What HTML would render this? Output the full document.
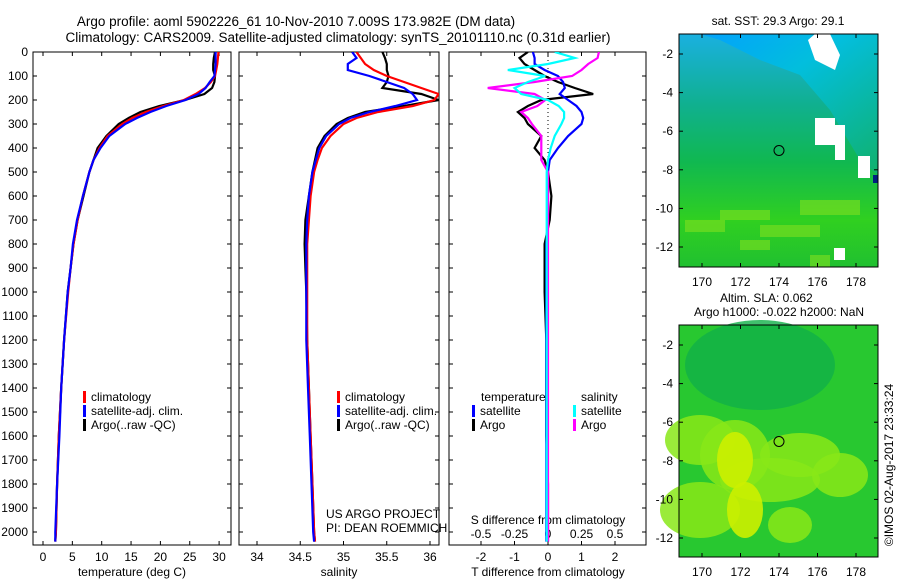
<!DOCTYPE html>
<html><head><meta charset="utf-8"><style>
body{margin:0;background:#fff;}
svg{display:block;font-family:"Liberation Sans",sans-serif;}
text{font-size:12px;fill:#000;}
</style></head><body>
<svg id="c" width="900" height="580" viewBox="0 0 900 580">
<text x="296" y="26" text-anchor="middle" style="font-size:13.5px">Argo profile: aoml 5902226_61 10-Nov-2010 7.009S 173.982E (DM data)</text>
<text x="338" y="42" text-anchor="middle" style="font-size:13.5px">Climatology: CARS2009. Satellite-adjusted climatology: synTS_20101110.nc (0.31d earlier)</text>
<g id="g"></g>
</svg>
<script>
const depths=[0,25,50,75,100,125,150,175,200,225,250,275,300,350,400,450,500,600,700,800,900,1000,1200,1400,1600,1800,2000,2040];
const tempClim=[29.9,29.8,29.7,29.5,29.3,28.6,27.6,26.0,24.0,20.5,17.5,15.2,13.5,11.0,9.6,8.6,7.9,6.8,5.9,5.2,4.7,4.3,3.6,3.1,2.7,2.4,2.2,2.1];
const tempSat=[29.4,29.4,29.4,29.3,29.2,28.4,27.7,26.5,24.3,21.0,18.3,16.0,14.0,11.3,9.8,8.6,7.9,6.8,5.8,5.1,4.7,4.2,3.6,3.1,2.8,2.4,2.1,2.1];
const tempArgo=[29.3,29.1,29.0,29.0,29.3,29.2,28.8,27.5,24.2,19.8,16.6,14.6,12.9,10.8,9.3,8.6,7.9,6.9,5.9,5.2,4.7,4.2,3.6,3.1,2.7,2.4,2.2,2.1];
const salClim=[35.15,35.2,35.25,35.35,35.5,35.7,35.9,36.1,36.05,35.8,35.4,35.15,35.0,34.85,34.75,34.7,34.66,34.62,34.6,34.58,34.58,34.58,34.58,34.6,34.62,34.64,34.66,34.67];
const salSat=[35.1,35.15,35.05,35.05,35.3,35.5,35.7,35.8,35.85,35.6,35.3,35.08,34.95,34.8,34.72,34.68,34.64,34.6,34.58,34.57,34.57,34.57,34.57,34.59,34.61,34.63,34.65,34.66];
const salArgo=[35.45,35.48,35.5,35.5,35.52,35.5,35.45,35.9,36.1,35.7,35.25,35.05,34.92,34.78,34.7,34.67,34.64,34.6,34.56,34.55,34.56,34.57,34.58,34.6,34.62,34.64,34.66,34.67];
const tDiffSat=[-0.45,-0.4,-0.4,-0.1,0.3,0.45,0.5,0.35,0.6,0.85,1.0,1.05,1.0,0.6,0.3,0.05,0,0,0,-0.05,-0.05,-0.05,-0.05,-0.05,-0.05,-0.05,-0.05,-0.05];
const tDiffArgo=[-0.6,-0.85,-0.7,-0.4,-0.1,0.3,0.8,1.35,-0.2,-0.6,-0.9,-0.7,-0.6,-0.2,-0.4,-0.1,0,0.1,0.05,-0.1,-0.1,-0.1,-0.05,-0.05,-0.05,0,0,0];
const sDiffSat=[0.05,0.2,0.0,-0.3,-0.02,-0.15,-0.25,-0.2,0.0,0.08,0.12,0.12,0.1,0.05,0.02,0.0,-0.01,-0.01,-0.01,-0.01,-0.01,-0.01,-0.01,-0.01,-0.01,-0.01,-0.01,-0.01];
const sDiffArgo=[0.38,0.37,0.3,0.25,0.18,-0.1,-0.45,-0.1,-0.02,-0.08,-0.2,-0.15,-0.12,-0.05,-0.05,-0.05,0,0,0,0,0,0,0,0,0,0,0,0];
const depthTicks=[0,100,200,300,400,500,600,700,800,900,1000,1100,1200,1300,1400,1500,1600,1700,1800,1900,2000];
const tempTicks=[0,5,10,15,20,25,30];
const salTicks=[34,34.5,35,35.5,36];
const tdTicks=[-2,-1,0,1,2];
const sdTicks=[-0.5,-0.25,0,0.25,0.5];
const sdLabels=['-0.5','-0.25','0','0.25','0.5'];
const lonTicks=[170,172,174,176,178];
const latTicks=[-2,-4,-6,-8,-10,-12];

const NS='http://www.w3.org/2000/svg';
const G=document.getElementById('g');
function mk(t,a,p){const e=document.createElementNS(NS,t);for(const k in a)e.setAttribute(k,a[k]);(p||G).appendChild(e);return e;}
const yD=d=>52+d*0.24;
const P1={l:33,r:231},P2={l:239,r:439},P3={l:449,r:646};
const xT=v=>43+v*5.87, xS=v=>257+(v-34)*86.5, xTD=v=>548+v*33.5, xSD=v=>548+v*134;
const PT=52,PB=545;
function clip(id,P){const cp=mk('clipPath',{id:id});mk('rect',{x:P.l,y:PT,width:P.r-P.l,height:PB-PT},cp);}
clip('c1',P1);clip('c2',P2);clip('c3',P3);
function frame(P,name){const r=mk('rect',{x:P.l,y:PT,width:P.r-P.l,height:PB-PT,fill:'none',stroke:'#000','stroke-width':1});


depthTicks.forEach(d=>{mk('line',{x1:P.l,x2:P.l+4,y1:yD(d),y2:yD(d),stroke:'#000'});mk('line',{x1:P.r,x2:P.r-4,y1:yD(d),y2:yD(d),stroke:'#000'});});}
frame(P1,'temperature-panel');frame(P2,'salinity-panel');frame(P3,'difference-panel');
function lab(x,y,s,name,anchor){const t=mk('text',{x:x,y:y,'text-anchor':anchor||'middle'});t.textContent=s;

return t;}
depthTicks.forEach(d=>lab(28,yD(d)+4,String(d),'depth-tick-label','end'));
function xticks(arr,fx,y,name){arr.forEach(v=>{const x=fx(v);mk('line',{x1:x,x2:x,y1:PB,y2:PB-4,stroke:'#000'});mk('line',{x1:x,x2:x,y1:PT,y2:PT+4,stroke:'#000'});
lab(x,y,String(v),name);});}
xticks(tempTicks,xT,561,'temperature-tick-label');
xticks(salTicks,xS,561,'salinity-tick-label');
xticks(tdTicks,xTD,561,'t-diff-tick-label');
sdTicks.forEach((v,i)=>lab(xSD(v),538,sdLabels[i],'s-diff-tick-label'));
lab(132,576,'temperature (deg C)','temperature-axis-title');
lab(339,576,'salinity','salinity-axis-title');
lab(548,576,'T difference from climatology','t-diff-axis-title');
lab(548,524,'S difference from climatology','s-diff-axis-title');
mk('line',{x1:548,x2:548,y1:PT,y2:PB,stroke:'#000','stroke-dasharray':'1,3'});
function series(vals,fx,col,cl,name){const pts=depths.map((d,i)=>fx(vals[i]).toFixed(1)+','+yD(d).toFixed(1)).join(' ');
const p=mk('polyline',{points:pts,fill:'none',stroke:col,'stroke-width':2.2,'clip-path':'url(#'+cl+')'});

}
series(tempArgo,xT,'#000','c1','temp-argo-line');series(tempClim,xT,'#f00','c1','temp-clim-line');series(tempSat,xT,'#00f','c1','temp-sat-line');
series(salArgo,xS,'#000','c2','sal-argo-line');series(salClim,xS,'#f00','c2','sal-clim-line');series(salSat,xS,'#00f','c2','sal-sat-line');
series(tDiffArgo,xTD,'#000','c3','tdiff-argo-line');series(tDiffSat,xTD,'#00f','c3','tdiff-sat-line');
series(sDiffArgo,xSD,'#f0f','c3','sdiff-argo-line');series(sDiffSat,xSD,'#0ff','c3','sdiff-sat-line');
function leg(x,y,col,s,name){mk('rect',{x:x,y:y-10,width:3,height:12,fill:col});lab(x+8,y,s,name,'start');}
[['#f00','climatology'],['#00f','satellite-adj. clim.'],['#000','Argo(..raw -QC)']].forEach((e,i)=>{leg(83,401+i*14,e[0],e[1],'temp-legend-entry');leg(337,401+i*14,e[0],e[1],'sal-legend-entry');});
lab(326,518,'US ARGO PROJECT','project-label','start');
lab(326,532,'PI: DEAN ROEMMICH','pi-label','start');
lab(481,401,'temperature','legend-temperature-header','start');
lab(581,401,'salinity','legend-salinity-header','start');
leg(472,415,'#00f','satellite','tdiff-legend-sat');leg(472,429,'#000','Argo','tdiff-legend-argo');
leg(573,415,'#0ff','satellite','sdiff-legend-sat');leg(573,429,'#f0f','Argo','sdiff-legend-argo');

const M1={l:679,r:878,t:34,b:267},M2={l:679,r:878,t:325,b:557};
const xL=v=>702+(v-170)*19.25;
const yL1=v=>54+(-2-v)*19.3, yL2=v=>M2.t+20+(-2-v)*19.3;
const defs=mk('defs',{});
function grad(id,stops,x2,y2){const g=mk('linearGradient',{id:id,x1:0,y1:0,x2:x2,y2:y2},defs);stops.forEach(s=>mk('stop',{offset:s[0],'stop-color':s[1]},g));}
grad('g1',[[0,'#1ab0e0'],[0.3,'#10b090'],[0.55,'#10b850'],[0.8,'#30d020'],[1,'#20c030']],0,1);
grad('g2',[[0,'#00a0ff'],[0.4,'#00c0e0'],[1,'#10b070']],1,1);
const m1=mk('g',{});


mk('rect',{x:M1.l,y:M1.t,width:M1.r-M1.l,height:M1.b-M1.t,fill:'url(#g1)'},m1);
mk('polygon',{points:'790,34 878,34 878,175 860,160 830,110 800,75 760,60 720,40 700,34',fill:'url(#g2)',opacity:0.9},m1);
mk('polygon',{points:'815,34 830,34 840,55 835,70 815,60 808,40',fill:'#fff'},m1);
mk('rect',{x:815,y:118,width:20,height:27,fill:'#fff'},m1);mk('rect',{x:835,y:125,width:10,height:35,fill:'#fff'},m1);
mk('rect',{x:858,y:156,width:12,height:22,fill:'#fff'},m1);mk('rect',{x:834,y:248,width:11,height:12,fill:'#fff'},m1);
mk('rect',{x:873,y:175,width:5,height:8,fill:'#002080'},m1);
[[685,220,40,12],[720,210,50,10],[760,225,60,12],[800,200,60,15],[740,240,30,10],[810,255,20,12]].forEach(r=>mk('rect',{x:r[0],y:r[1],width:r[2],height:r[3],fill:'#80e020',opacity:0.6},m1));
const m2=mk('g',{});


mk('rect',{x:M2.l,y:M2.t,width:M2.r-M2.l,height:M2.b-M2.t,fill:'#28c830'},m2);
mk('ellipse',{cx:760,cy:365,rx:75,ry:45,fill:'#10b048',opacity:0.8},m2);
[[700,440,35,25],[735,455,35,35],[700,510,40,28],[770,480,50,22],[800,455,40,22],[840,475,28,22],[790,525,22,18]].forEach(e=>mk('ellipse',{cx:e[0],cy:e[1],rx:e[2],ry:e[3],fill:'#88e818',opacity:0.85},m2));
mk('ellipse',{cx:735,cy:460,rx:18,ry:28,fill:'#ccf000',opacity:0.9},m2);
mk('ellipse',{cx:745,cy:510,rx:18,ry:28,fill:'#ccf000',opacity:0.9},m2);
function mapAxes(M,yL){mk('rect',{x:M.l,y:M.t,width:M.r-M.l,height:M.b-M.t,fill:'none',stroke:'#000'});
lonTicks.forEach(v=>{const x=xL(v);mk('line',{x1:x,x2:x,y1:M.b,y2:M.b-4,stroke:'#000'});mk('line',{x1:x,x2:x,y1:M.t,y2:M.t+4,stroke:'#000'});lab(x,M.b+19,String(v),'lon-tick-label');});
latTicks.forEach(v=>{const y=yL(v);mk('line',{x1:M.l,x2:M.l+4,y1:y,y2:y,stroke:'#000'});mk('line',{x1:M.r,x2:M.r-4,y1:y,y2:y,stroke:'#000'});lab(673,y+4,String(v),'lat-tick-label','end');});
const c=mk('circle',{cx:xL(174),cy:yL(-7),r:5,fill:'none',stroke:'#000'});

}
mapAxes(M1,yL1);mapAxes(M2,yL2);
lab(778,25,'sat. SST: 29.3 Argo: 29.1','sst-map-title');
lab(720,302,'Altim. SLA: 0.062','sla-map-title','start');
lab(779,316,'Argo h1000: -0.022 h2000: NaN','argo-height-label');
const ts=mk('text',{x:0,y:0,transform:'translate(893,465) rotate(-90)','text-anchor':'middle'});ts.textContent='©IMOS 02-Aug-2017 23:33:24';


</script>
</body></html>
